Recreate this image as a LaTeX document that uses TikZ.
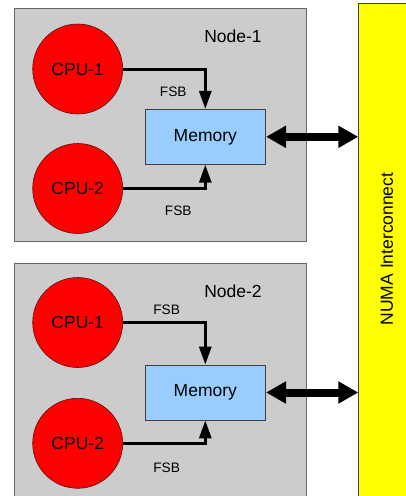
\documentclass[tikz,border=0pt]{standalone}
\usepackage{fontspec}
\setmainfont{Liberation Sans}
\usetikzlibrary{arrows.meta}
\definecolor{boxgray}{HTML}{CCCCCC}
\definecolor{boxedge}{HTML}{666666}
\definecolor{cpured}{HTML}{FF0000}
\definecolor{cpuedge}{HTML}{5A1010}
\definecolor{memblue}{HTML}{99CCFF}
\definecolor{memedge}{HTML}{404040}
\definecolor{numayellow}{HTML}{FFFF00}
\tikzset{
  numabox/.style={draw=boxedge, fill=boxgray, line width=1pt, anchor=north west, minimum width=292pt, inner sep=0pt},
  cpu/.style={circle, draw=cpuedge, fill=cpured, line width=0.6pt, minimum size=90pt, inner sep=0pt, font=\fontsize{17.5}{20}\selectfont},
  mem/.style={rectangle, draw=memedge, fill=memblue, line width=0.8pt, minimum width=120.7pt, minimum height=55pt, inner sep=0pt, font=\fontsize{17.5}{20}\selectfont},
  lbl/.style={font=\fontsize{17.5}{20}\selectfont, inner sep=0pt},
  fsb/.style={font=\fontsize{13.7}{16}\selectfont, inner sep=0pt},
  bus/.style={line width=3pt, -{Triangle[length=18pt,width=12pt]}},
  link/.style={line width=8pt, {Triangle[length=20pt,width=21pt]}-{Triangle[length=20pt,width=21pt]}},
}
\begin{document}
\begin{tikzpicture}[x=1pt, y=-1pt]
\useasboundingbox (0,0) rectangle (406,496);
\clip (0,0) rectangle (406,496);
% interconnect bar
\node[draw=memedge, fill=numayellow, line width=1pt, anchor=north west, minimum width=80pt, minimum height=540pt, inner sep=0pt] (bar) at (358.3,3.3) {};
\node[lbl, rotate=90] (numa) at (387,249) {NUMA Interconnect};
% Node 1
\node[numabox, minimum height=233pt] (n1) at (13.5,7.5) {};
\node[lbl] (n1lbl) at (233,36) {Node-1};
\node[cpu] (c11) at (77.7,69) {CPU-1};
\node[cpu] (c12) at (77.7,188.5) {CPU-2};
\node[mem] (m1) at (205.3,136.8) {Memory};
\node[fsb] (f11) at (173.3,91.7) {FSB};
\node[fsb] (f12) at (178.3,210.7) {FSB};
\draw[bus] (c11.east) -| (m1.north);
\draw[bus] (c12.east) -| (m1.south);
\draw[link] (m1.east) -- (m1.east -| bar.west);
% Node 2
\node[numabox, minimum height=280pt] (n2) at (13.5,262.7) {};
\node[lbl] (n2lbl) at (233,291.7) {Node-2};
\node[cpu] (c21) at (77.7,322.5) {CPU-1};
\node[cpu] (c22) at (77.7,443.3) {CPU-2};
\node[mem] (m2) at (205.3,392.5) {Memory};
\node[fsb] (f21) at (166.7,309.3) {FSB};
\node[fsb] (f22) at (166.7,467.3) {FSB};
\draw[bus] (c21.east) -| (m2.north);
\draw[bus] (c22.east) -| (m2.south);
\draw[link] (m2.east) -- (m2.east -| bar.west);
\end{tikzpicture}
\end{document}
